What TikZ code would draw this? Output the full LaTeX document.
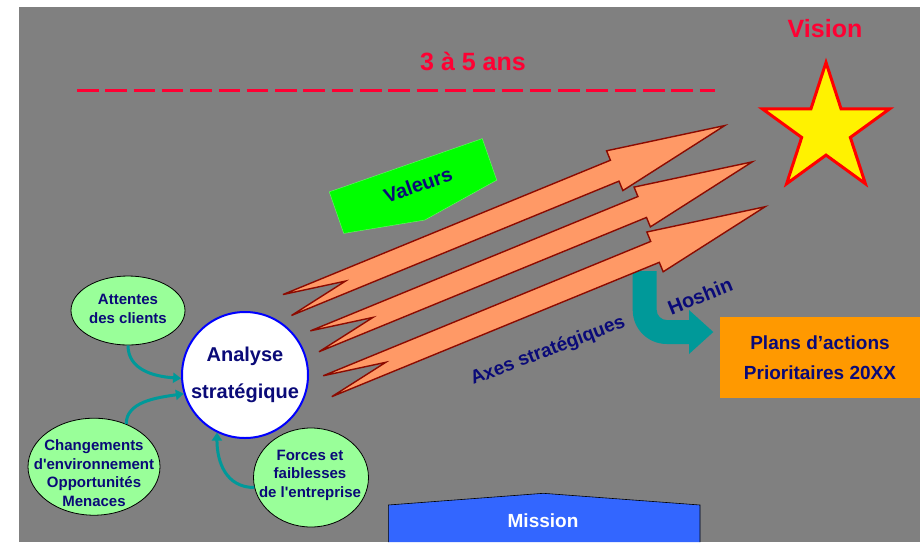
\documentclass[tikz,border=0pt]{standalone}
\usepackage{fontspec}
\setmainfont{Liberation Sans}
\newfontfamily\droite{Liberation Sans}
\usepackage{tikz}
\usetikzlibrary{shapes.geometric,arrows.meta}
\definecolor{fondgris}{RGB}{128,128,128}
\definecolor{marine}{RGB}{10,10,120}
\definecolor{rougevif}{RGB}{255,0,51}
\definecolor{saumon}{RGB}{255,153,102}
\definecolor{brique}{RGB}{140,10,0}
\definecolor{vertvif}{RGB}{0,255,0}
\definecolor{vertclair}{RGB}{153,255,153}
\definecolor{sarcelle}{RGB}{0,153,153}
\definecolor{orangeplan}{RGB}{255,153,0}
\definecolor{bleumission}{RGB}{51,102,255}
\tikzset{
axe/.style={fill=saumon, draw=brique, line width=1.4pt},
bulle/.style={ellipse, fill=vertclair, draw=black, line width=0.8pt, inner sep=0pt},
petit/.style={text=marine, font=\droite\bfseries\fontsize{15}{18.5}\selectfont, align=center},
grand/.style={text=marine, font=\bfseries\fontsize{20}{20}\selectfont},
fleche/.style={draw=sarcelle, line width=3pt, -{Triangle[length=8pt,width=10pt]}}
}

\begin{document}
\begin{tikzpicture}[x=1pt,y=-1pt]
\useasboundingbox (0,0) rectangle (920,542);
\fill[white] (0,0) rectangle (920,542);
\fill[fondgris] (19,7) rectangle (920,542);
% horizon
\draw[rougevif, line width=3pt, dash pattern=on 21.5pt off 6.8pt] (77,90) -- (715,90);
\node[text=rougevif, font=\bfseries\fontsize{25}{25}\selectfont] (duree) at (473,61) {3 à 5 ans};
\node[text=rougevif, font=\bfseries\fontsize{25}{25}\selectfont] (vision) at (825,29) {Vision};
\node[star, star points=5, star point ratio=2.618, minimum size=134pt, inner sep=0pt, fill=yellow, draw=red, line width=3pt] (etoile) at (826,129.5) {};
% hoshin
\fill[sarcelle] (632.7,271) -- (632.7,310) .. controls (632.7,328.8) and (647.9,344) .. (666.7,344) -- (689,344) -- (689,354) -- (713.3,332) -- (689,310) -- (689,320) -- (666.7,320) .. controls (661.2,320) and (656.7,315.5) .. (656.7,310) -- (656.7,271) -- cycle;
\draw[axe, shift={(287.2,305)}, rotate=22.3] (0,-11.3) -- (63,0) -- (0,11.3) -- (354,11.3) -- (354,21.5) -- (473,0) -- (354,-21.5) -- (354,-11.3) -- cycle;
\draw[axe, shift={(314.7,341.3)}, rotate=22.3] (0,-11.3) -- (63,0) -- (0,11.3) -- (354,11.3) -- (354,21.5) -- (473,0) -- (354,-21.5) -- (354,-11.3) -- cycle;
\draw[axe, shift={(327.5,386.2)}, rotate=22.3] (0,-11.3) -- (63,0) -- (0,11.3) -- (354,11.3) -- (354,21.5) -- (473,0) -- (354,-21.5) -- (354,-11.3) -- cycle;
\draw[fill=vertvif, draw=green!60!white, shift={(413,186)}, rotate=19.2] (-81,-22) -- (81,-22) -- (81,22) -- (0,36) -- (-81,22) -- cycle;
\node[grand, rotate=19.5] (valeurs) at (418,185) {Valeurs};
\node[grand, font=\bfseries\fontsize{19}{19}\selectfont, rotate=21] (axes) at (548,351) {Axes stratégiques};
\node[grand, rotate=22] (hoshin) at (700,296) {Hoshin};
% analyse
\node[circle, minimum size=126pt, inner sep=0pt, fill=white, draw=blue, line width=2pt] (analyse) at (245,375) {};
\node[grand, align=center, font=\bfseries\fontsize{20}{37}\selectfont] (txtanalyse) at (analyse) {Analyse\\stratégique};
\node[bulle, minimum width=114pt, minimum height=69pt] (attentes) at (128,310.5) {};
\node[petit] (txtattentes) at (128,309) {Attentes\\des clients};
\node[bulle, minimum width=132pt, minimum height=97pt] (changements) at (94,466.7) {};
\node[petit] (txtchangements) at (94,473) {Changements\\d'environnement\\Opportunités\\Menaces};
\node[bulle, minimum width=115pt, minimum height=99pt] (forces) at (311,477.5) {};
\node[petit] (txtforces) at (310,475) {Forces et\\faiblesses\\de l'entreprise};
\draw[fleche] (attentes.south) .. controls +(0,24) and +(-28,-2) .. (analyse.183);
\draw[fleche] (changements.53) .. controls +(0,-22) and +(-28,4) .. (analyse.197);
\draw[fleche] (forces.190) .. controls +(-28,0) and +(0,30) .. (analyse.244);
% mission et plans
\draw[fill=bleumission, draw=black, line width=0.6pt] (388.3,542) -- (388.3,505) -- (543.3,493.3) -- (700,505) -- (700,542);
\node[text=white, font=\bfseries\fontsize{19}{19}\selectfont] (mission) at (543,521) {Mission};
\node[fill=orangeplan, minimum width=200pt, minimum height=81pt, inner sep=0pt, text=marine, align=center, font=\bfseries\fontsize{19}{29.4}\selectfont] (plans) at (820,357.5) {Plans d’actions\\Prioritaires 20XX};
\end{tikzpicture}
\end{document}
